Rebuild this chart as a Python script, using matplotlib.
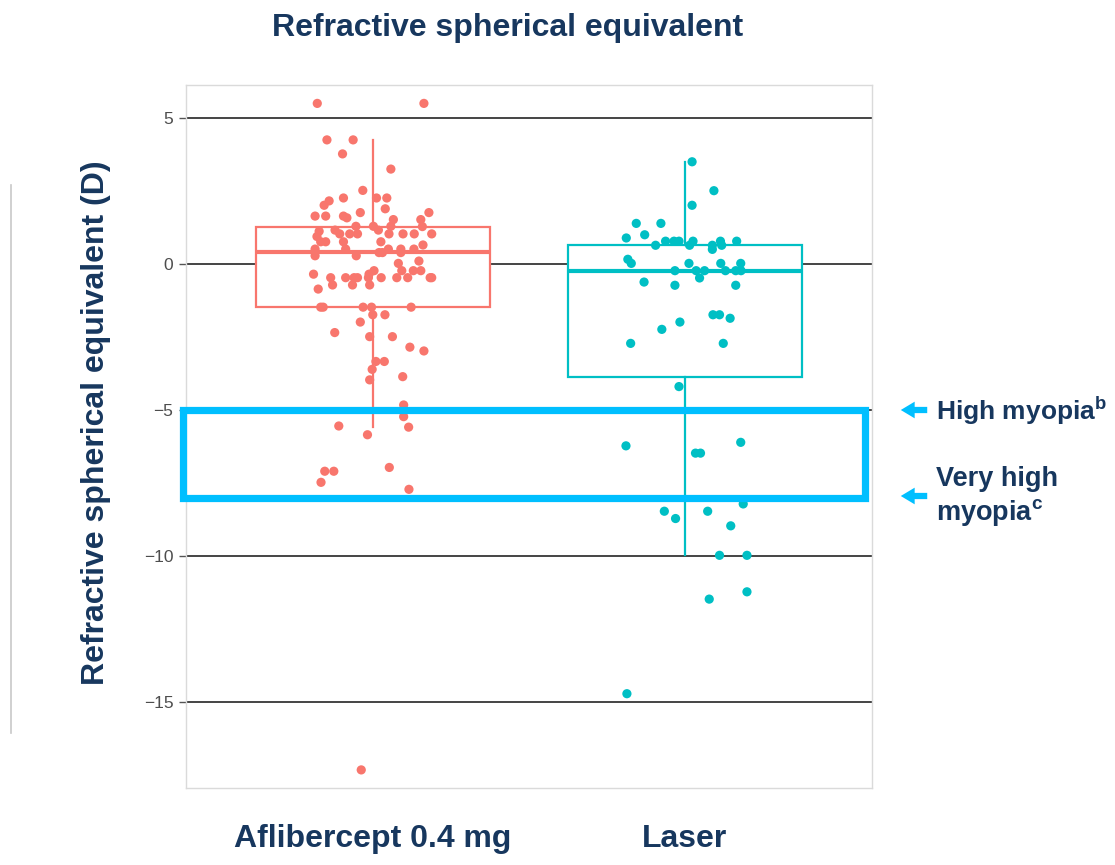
import matplotlib
matplotlib.use("Agg")
import matplotlib.pyplot as plt
from matplotlib.patches import Rectangle, FancyArrowPatch
from matplotlib.lines import Line2D

plt.rcParams['font.family'] = ['Liberation Sans', 'DejaVu Sans']
plt.rcParams['mathtext.fontset'] = 'custom'
plt.rcParams['mathtext.rm'] = 'Liberation Sans'
plt.rcParams['mathtext.bf'] = 'Liberation Sans:bold'

# ---------------- data ----------------
categories = ["Aflibercept 0.4 mg", "Laser"]
group_colors = ["#F8766D", "#00BFC4"]

aflibercept_values = [
    5.5, 5.5, 4.25, 4.25, 3.77, 3.25, 2.52, 2.26, 2.26, 2.26, 2.16, 2.01, 1.89, 1.76,
    1.64, 1.64, 1.64, 1.58, 1.76, 1.52, 1.52, 1.29, 1.29, 1.29, 1.28, 1.12, 1.16, 1.03,
    1.03, 1.03, 1.16, 1.03, 1.03, 1.03, 1.03, 0.94, 0.76, 0.76, 0.76, 0.76, 0.65, 0.51,
    0.51, 0.51, 0.51, 0.51, 0.39, 0.39, 0.39, 0.28, 0.28, 0.10, 0.02,
    -0.23, -0.23, -0.23, -0.23, -0.35, -0.35, -0.47, -0.47, -0.47, -0.47, -0.47, -0.47,
    -0.47, -0.47, -0.47, -0.47, -0.72, -0.72, -0.72, -0.86, -1.48, -1.48, -1.48, -1.48,
    -1.48, -1.74, -1.74, -1.99, -2.35, -2.49, -2.49, -2.85, -2.98, -3.34, -3.34, -3.61,
    -3.97, -3.86, -4.83, -5.23, -5.55, -5.59, -5.85, -7.10, -7.10, -7.48, -6.97, -7.72,
    -17.33]
aflibercept_jitter = [
    -0.179, 0.163, -0.148, -0.064, -0.098, 0.057, -0.033, -0.095, 0.011, 0.044, -0.141,
    -0.157, 0.039, -0.041, -0.186, -0.152, -0.095, -0.084, 0.179, 0.065, 0.153, -0.055,
    0.001, 0.057, 0.158, -0.173, -0.122, -0.107, -0.075, -0.050, 0.017, 0.051, 0.096,
    0.132, 0.188, -0.180, -0.168, -0.152, -0.095, 0.025, 0.160, -0.186, -0.088, 0.049,
    0.089, 0.131, 0.019, 0.030, 0.089, -0.186, -0.054, 0.147, 0.081,
    0.003, 0.092, 0.129, 0.153, -0.191, -0.013, -0.136, -0.088, -0.061, -0.050, -0.015,
    0.026, 0.076, 0.111, 0.183, 0.188, -0.130, -0.066, -0.011, -0.176, -0.168, -0.160,
    -0.032, -0.005, 0.122, -0.001, 0.038, -0.041, -0.123, -0.011, 0.062, 0.118, 0.163,
    0.009, 0.036, -0.003, -0.011, 0.095, 0.098, 0.098, -0.110, 0.114, -0.018, -0.155,
    -0.126, -0.167, 0.052, 0.115, -0.038]

laser_values = [
    3.50, 2.51, 2.01, 1.39, 1.39, 0.89, 1.00, 0.64, 0.78, 0.78, 0.78, 0.64, 0.78, 0.64,
    0.50, 0.78, 0.64, 0.78, 0.16, 0.02, 0.02, 0.02, 0.02, -0.23, -0.23, -0.23, -0.23,
    -0.23, -0.23, -0.48, -0.62, -0.73, -0.73, -1.74, -1.74, -1.86, -1.99, -2.24, -2.72,
    -2.72, -4.20, -6.23, -6.11, -6.48, -6.48, -8.47, -8.72, -8.47, -8.22, -8.97, -9.98,
    -9.98, -11.23, -11.48, -14.72]
laser_jitter = [
    0.023, 0.093, 0.023, -0.156, -0.077, -0.188, -0.129, -0.094, -0.062, -0.035, -0.019,
    0.015, 0.026, 0.088, 0.088, 0.114, 0.118, 0.166, -0.183, -0.172, 0.013, 0.115, 0.179,
    -0.032, 0.036, 0.063, 0.130, 0.163, 0.180, 0.047, -0.131, -0.032, 0.163, 0.090,
    0.111, 0.145, -0.016, -0.074, -0.174, 0.123, -0.019, -0.189, 0.179, 0.034, 0.050,
    -0.066, -0.030, 0.073, 0.187, 0.147, 0.111, 0.199, 0.199, 0.078, -0.186]

# box statistics
box_q1 = [-1.47, -3.86]
box_median = [0.40, -0.23]
box_q3 = [1.27, 0.64]
whisker_low = [-5.59, -9.97]
whisker_high = [4.25, 3.50]

y_ticks = [5, 0, -5, -10, -15]
y_tick_labels = ["5", "0", "\u22125", "\u221210", "\u221215"]
high_myopia_band = [-5, -8]

navy = "#17375E"

# ---------------- figure ----------------
fig = plt.figure(figsize=(11.15, 8.65), dpi=100)
ax = fig.add_axes([186 / 1115, 1 - 788 / 865, 686 / 1115, 703 / 865])
ax.set_xlim(0.4, 2.6)
ax.set_ylim(-17.95, 6.13)

for s in ax.spines.values():
    s.set_color("#DADADA")
    s.set_linewidth(1.0)

ax.set_yticks(y_ticks)
ax.set_yticklabels(y_tick_labels)
ax.tick_params(axis='y', length=5, width=1, color="#555555", labelcolor="#4D4D4D",
               labelsize=12.5, pad=4)
for yv in y_ticks:
    ax.axhline(yv, color="#444444", lw=1.4, zorder=1)

positions = [1, 2]
stats = []
for i in range(2):
    stats.append(dict(med=box_median[i], q1=box_q1[i], q3=box_q3[i],
                      whislo=whisker_low[i], whishi=whisker_high[i], fliers=[]))
bp = ax.bxp(stats, positions=positions, widths=0.75, showcaps=False,
            showfliers=False, patch_artist=True, zorder=2)
for i, c in enumerate(group_colors):
    bp['boxes'][i].set_facecolor("white")
    bp['boxes'][i].set_edgecolor(c)
    bp['boxes'][i].set_linewidth(1.6)
    bp['medians'][i].set_color(c)
    bp['medians'][i].set_linewidth(3)
    for w in bp['whiskers'][2 * i:2 * i + 2]:
        w.set_color(c)
        w.set_linewidth(1.6)

ax.scatter([1 + j for j in aflibercept_jitter], aflibercept_values, s=44,
           color=group_colors[0], edgecolors="none", zorder=3)
ax.scatter([2 + j for j in laser_jitter], laser_values, s=44,
           color=group_colors[1], edgecolors="none", zorder=3)

ax.set_xticks(positions)
ax.set_xticklabels(categories)
ax.tick_params(axis='x', length=0, pad=26, labelsize=23, labelcolor=navy)
for lbl in ax.get_xticklabels():
    lbl.set_fontweight('bold')

ax.set_ylabel("Refractive spherical equivalent (D)", fontsize=23, fontweight='bold',
              color=navy)
ax.yaxis.set_label_coords(-0.109, 0.52)

# high myopia band
rect = Rectangle((0.39, high_myopia_band[1]), 2.577 - 0.39,
                 high_myopia_band[0] - high_myopia_band[1], fill=False,
                 edgecolor="#00BFFF", lw=5.2, clip_on=False, zorder=4)
ax.add_patch(rect)

fig.text(508 / 1115, 1 - 28 / 865, "Refractive spherical equivalent", ha='center',
         va='center', fontsize=23, fontweight='bold', color=navy)

# decorative line on the left
fig.add_artist(Line2D([11 / 1115, 11 / 1115], [1 - 185 / 865, 1 - 733 / 865],
                      color="#C8C8C8", lw=1.2))

for ypix in (410, 496):
    fy = 865 - ypix
    arr = FancyArrowPatch((930, fy), (898, fy), transform=None,
                          arrowstyle="simple,head_length=1.0,head_width=1.2,tail_width=0.45",
                          mutation_scale=10, color="#00BFFF", lw=0)
    fig.add_artist(arr)

fig.text(936 / 1115, 1 - 411 / 865, r"High myopia$^{\mathbf{b}}$", ha='left', va='center',
         fontsize=19, fontweight='bold', color=navy)
fig.text(936 / 1115, 1 - 497 / 865, "Very high\n" + r"myopia$^{\mathbf{c}}$", ha='left',
         va='center', fontsize=19.5, fontweight='bold', color=navy, linespacing=1.2)

fig.savefig("out.png", dpi=100)
